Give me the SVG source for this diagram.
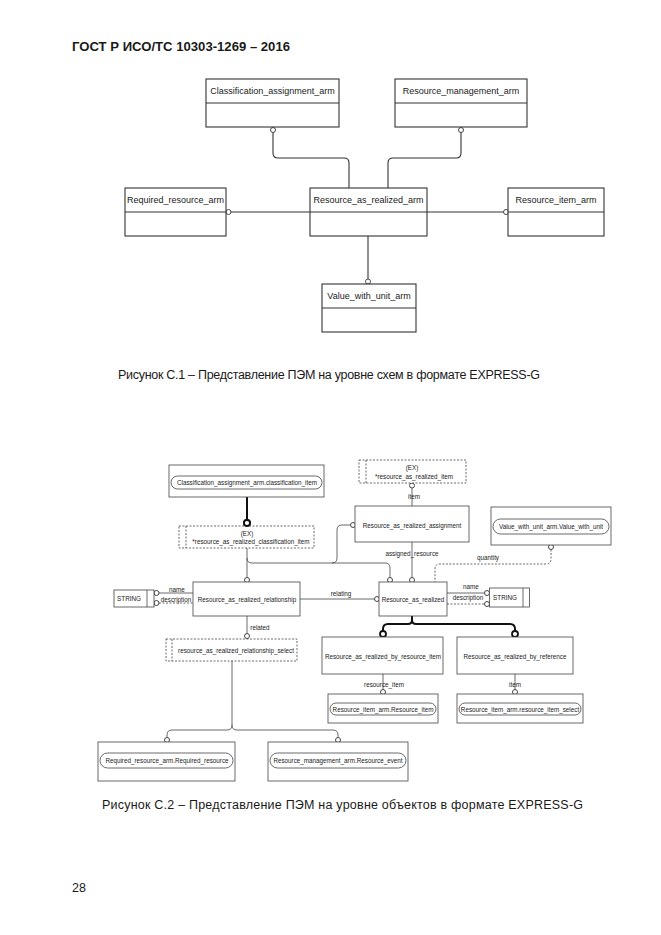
<svg xmlns="http://www.w3.org/2000/svg" width="661" height="935" viewBox="0 0 661 935">
<style>
text{font-family:"Liberation Sans",Arial,sans-serif;fill:#1a1a1a}
.hdr{font-size:12px;font-weight:bold}
.cap{font-size:12.5px}
.t1{font-size:9px;text-anchor:middle}
.t2{font-size:6.3px;text-anchor:middle;dominant-baseline:central}
.box{fill:#fff;stroke:#333;stroke-width:1.1}
.sbox{fill:#fff;stroke:#444;stroke-width:0.8}
.dbox{fill:#fff;stroke:#444;stroke-width:0.8;stroke-dasharray:2,1.5}
.dl{fill:none;stroke:#444;stroke-width:0.8;stroke-dasharray:2,1.5}
.ln{fill:none;stroke:#333;stroke-width:1.1}
.ln2{fill:none;stroke:#444;stroke-width:0.8}
.thk{fill:none;stroke:#111;stroke-width:2}
.c{fill:#fff;stroke:#333;stroke-width:0.9}
.ct{fill:#fff;stroke:#111;stroke-width:1.8}
.pill{fill:#fff;stroke:#444;stroke-width:0.8}
</style>
<text class="hdr" x="72" y="51" textLength="218" lengthAdjust="spacingAndGlyphs">ГОСТ Р ИСО/ТС 10303-1269 – 2016</text>

<g id="top-connectors">
<path class="ln" d="M273,132.5 V153 Q273,158 278,158 H344 Q349,158 349,163 V188"/>
<path class="ln" d="M461,132.5 V153 Q461,158 456,158 H393 Q388,158 388,163 V188"/>
<path class="ln" d="M231,212 H310 M427,212 H503.5"/>
<path class="ln" d="M368,236 V279"/>
<circle class="c" cx="273" cy="130" r="2.5"/>
<circle class="c" cx="461" cy="130" r="2.5"/>
<circle class="c" cx="228.5" cy="212" r="2.5"/>
<circle class="c" cx="506" cy="212" r="2.5"/>
<circle class="c" cx="368" cy="281.5" r="2.5"/>
</g>
<g id="n-classification-arm"><rect class="box" x="206" y="79" width="133" height="48"/><line class="ln" x1="206" y1="103" x2="339" y2="103"/><text class="t1" x="272.5" y="94">Classification_assignment_arm</text></g>
<g id="n-resource-management-arm"><rect class="box" x="395" y="79" width="132" height="48"/><line class="ln" x1="395" y1="103" x2="527" y2="103"/><text class="t1" x="461" y="94">Resource_management_arm</text></g>
<g id="n-required-resource-arm"><rect class="box" x="125" y="188" width="101" height="48"/><line class="ln" x1="125" y1="212" x2="226" y2="212"/><text class="t1" x="175.5" y="203">Required_resource_arm</text></g>
<g id="n-resource-as-realized-arm"><rect class="box" x="310" y="188" width="117" height="48"/><line class="ln" x1="310" y1="212" x2="427" y2="212"/><text class="t1" x="368.5" y="203">Resource_as_realized_arm</text></g>
<g id="n-resource-item-arm"><rect class="box" x="508" y="188" width="96" height="48"/><line class="ln" x1="508" y1="212" x2="604" y2="212"/><text class="t1" x="556" y="203">Resource_item_arm</text></g>
<g id="n-value-with-unit-arm"><rect class="box" x="322" y="284" width="94" height="48"/><line class="ln" x1="322" y1="308" x2="416" y2="308"/><text class="t1" x="369" y="299">Value_with_unit_arm</text></g>

<text class="cap" x="118" y="379" textLength="422" lengthAdjust="spacing">Рисунок С.1 –  Представление ПЭМ на уровне схем в формате EXPRESS-G</text>

<g id="bottom-connectors">
<path class="thk" d="M247,497 V520"/>
<path class="ln2" d="M247,548 V577.5 M247,558 Q247,563 252,563 H385 Q390,563 390,568 V577.5"/>
<path class="ln2" d="M332,563 Q337,563 337,558 V530 Q337,525 342,525 H350.5"/>
<path class="ln2" d="M412,488 V506"/>
<path class="ln2" d="M412,542 V577.5"/>
<path class="dl" d="M551,549.5 V559 Q551,564 546,564 H440 Q435,564 435,569 V582"/>
<path class="ln2" d="M159,593 H193"/>
<path class="dl" d="M159,603 H193"/>
<path class="ln2" d="M300,599 H374.5"/>
<path class="ln2" d="M447,593 H484.5"/>
<path class="dl" d="M447,604 H484.5"/>
<path class="ln2" d="M247,616 V633.5"/>
<path class="thk" d="M412,616 V620 Q412,624 408,624 H388 Q383,624 383,629 V631 M412,620 Q412,624 416,624 H510 Q515,624 515,629 V631"/>
<path class="ln2" d="M232,661 V725 Q232,730 227,730 H172 Q167,730 167,735 V737.5 M232,725 Q232,730 237,730 H333 Q338,730 338,735 V737.5"/>
<path class="ln2" d="M383,674 V689.5 M515,674 V689.5"/>
<circle class="ct" cx="247" cy="523" r="3"/>
<circle class="c" cx="247" cy="580" r="2.5"/>
<circle class="c" cx="390" cy="580" r="2.5"/>
<circle class="c" cx="412" cy="580" r="2.5"/>
<circle class="c" cx="353" cy="525" r="2.5"/>
<circle class="c" cx="412" cy="485.5" r="2.5"/>
<circle class="c" cx="551" cy="547" r="2.5"/>
<circle class="c" cx="156.5" cy="593" r="2.5"/>
<circle class="c" cx="156.5" cy="603" r="2.5"/>
<circle class="c" cx="377" cy="599" r="2.5"/>
<circle class="c" cx="487" cy="593" r="2.5"/>
<circle class="c" cx="487" cy="604" r="2.5"/>
<circle class="c" cx="247" cy="636" r="2.5"/>
<circle class="ct" cx="383" cy="634" r="3"/>
<circle class="ct" cx="515" cy="634" r="3"/>
<circle class="c" cx="383" cy="692" r="2.5"/>
<circle class="c" cx="515" cy="692" r="2.5"/>
<circle class="c" cx="167" cy="740" r="2.5"/>
<circle class="c" cx="338" cy="740" r="2.5"/>
<text class="t2" x="414" y="496">item</text>
<text class="t2" x="412" y="553">assigned_resource</text>
<text class="t2" x="488" y="557">quantity</text>
<text class="t2" x="177" y="589">name</text>
<text class="t2" x="176" y="599">description</text>
<text class="t2" x="341" y="593">relating</text>
<text class="t2" x="471" y="586">name</text>
<text class="t2" x="468" y="597">description</text>
<text class="t2" x="260" y="627">related</text>
<text class="t2" x="384" y="684">resource_item</text>
<text class="t2" x="515" y="684">item</text>
</g>

<g id="n-classification-item"><rect class="sbox" x="169" y="465" width="155" height="32"/><rect class="pill" x="171" y="476" width="151" height="13" rx="6.5"/><text class="t2" x="247" y="482.5">Classification_assignment_arm.classification_item</text></g>
<g id="n-ex-classification-item"><rect class="dbox" x="179" y="526" width="135" height="22"/><line class="dl" x1="186" y1="526" x2="186" y2="548"/><circle class="ct" cx="247" cy="523" r="3"/><text class="t2" x="247" y="533">(EX)</text><text class="t2" x="251" y="541">*resource_as_realized_classification_item</text></g>
<g id="n-ex-realized-item"><rect class="dbox" x="359" y="460" width="107" height="23"/><line class="dl" x1="366" y1="460" x2="366" y2="483"/><text class="t2" x="412" y="467.5">(EX)</text><text class="t2" x="414" y="476">*resource_as_realized_item</text></g>
<g id="n-realized-assignment"><rect class="sbox" x="355" y="506" width="114" height="36"/><text class="t2" x="412" y="525">Resource_as_realized_assignment</text></g>
<g id="n-value-with-unit"><rect class="sbox" x="491" y="507" width="120" height="38"/><rect class="pill" x="493" y="519" width="116" height="15" rx="7.5"/><text class="t2" x="551" y="526.5">Value_with_unit_arm.Value_with_unit</text></g>
<g id="n-string-left"><rect class="sbox" x="114" y="590" width="40" height="17"/><line class="ln2" x1="147" y1="590" x2="147" y2="607"/><text class="t2" x="129" y="598.5">STRING</text></g>
<g id="n-realized-relationship"><rect class="sbox" x="193" y="582" width="107" height="34"/><text class="t2" x="247" y="599">Resource_as_realized_relationship</text></g>
<g id="n-resource-as-realized"><rect class="sbox" x="379" y="582" width="68" height="34"/><text class="t2" x="413" y="599">Resource_as_realized</text></g>
<g id="n-string-right"><rect class="sbox" x="489.5" y="588" width="40" height="19"/><line class="ln2" x1="523" y1="588" x2="523" y2="607"/><text class="t2" x="505" y="597.5">STRING</text></g>
<g id="n-relationship-select"><rect class="dbox" x="166" y="639" width="131" height="22"/><line class="dl" x1="172" y1="639" x2="172" y2="661"/><text class="t2" x="236" y="650">resource_as_realized_relationship_select</text></g>
<g id="n-by-resource-item"><rect class="sbox" x="322" y="637" width="121" height="37"/><text class="t2" x="383" y="656">Resource_as_realized_by_resource_item</text></g>
<g id="n-by-reference"><rect class="sbox" x="457" y="637" width="116" height="37"/><text class="t2" x="515" y="656">Resource_as_realized_by_reference</text></g>
<g id="n-resource-item"><rect class="sbox" x="328" y="694" width="110" height="29"/><rect class="pill" x="330" y="703" width="106" height="12" rx="6"/><text class="t2" x="383" y="709">Resource_item_arm.Resource_item</text></g>
<g id="n-resource-item-select"><rect class="sbox" x="457" y="694" width="126" height="29"/><rect class="pill" x="459" y="703" width="122" height="12" rx="6"/><text class="t2" x="520" y="709">Resource_item_arm.resource_item_select</text></g>
<g id="n-required-resource"><rect class="sbox" x="98" y="742" width="137" height="39"/><rect class="pill" x="100" y="753" width="133" height="15" rx="7.5"/><text class="t2" x="167" y="760.5">Required_resource_arm.Required_resource</text></g>
<g id="n-resource-event"><rect class="sbox" x="268" y="742" width="140" height="39"/><rect class="pill" x="270" y="753" width="136" height="15" rx="7.5"/><text class="t2" x="338" y="760.5">Resource_management_arm.Resource_event</text></g>

<text class="cap" x="102" y="809" textLength="481" lengthAdjust="spacing">Рисунок С.2 –  Представление ПЭМ на уровне объектов в формате EXPRESS-G</text>
<text class="cap" x="72" y="892">28</text>
</svg>
